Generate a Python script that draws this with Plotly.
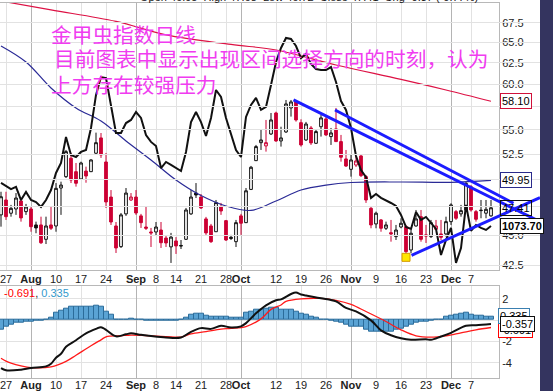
import numpy as np
import pandas as pd
import plotly.graph_objects as go

# ---------------- data ----------------
holidays = ["2015-09-07", "2015-11-26"]
dates = [d.strftime("%Y-%m-%d") for d in pd.bdate_range("2015-07-24", "2015-12-11")]
dates = [d for d in dates if d not in holidays]
day = list(np.arange(len(dates)) - 1)          # trading-day index, 2015-07-27 = 0

open_ = [46.77, 48.12, 46.92, 47.30, 48.03, 47.06, 47.30, 45.88, 45.88, 44.64,
         45.88, 45.79, 49.23, 50.31, 52.11, 50.79, 50.09, 50.85, 50.79, 52.61,
         54.17, 51.74, 48.39, 45.79, 44.02, 46.86, 48.12, 48.39, 46.68, 45.70,
         45.27, 45.27, 45.44, 44.75, 44.00, 44.50, 44.12, 44.64, 46.86, 48.76,
         48.39, 46.41, 45.79, 45.29, 47.48, 46.26, 44.81, 44.44, 46.68, 46.08,
         49.10, 51.87, 53.68, 53.35, 54.58, 56.81, 53.86, 54.79, 57.36, 58.05,
         55.77, 53.96, 55.21, 53.62, 55.34, 56.17, 54.31, 55.11, 53.79, 52.04,
         51.02, 51.44, 52.34, 50.31, 47.36, 45.97, 46.32, 45.59, 45.21, 44.87,
         45.70, 45.73, 43.74, 45.79, 46.61, 45.02, 44.87, 45.50, 45.10, 45.10,
         46.17, 47.06, 46.86, 47.21, 49.35, 47.06, 47.15, 46.92, 46.68]
high = [48.88, 48.88, 47.67, 48.76, 48.12, 47.76, 47.48, 46.17, 46.61, 46.61,
        47.48, 49.70, 49.83, 52.94, 52.64, 51.64, 51.77, 51.28, 52.01, 54.72,
        54.68, 52.64, 49.04, 46.14, 46.94, 49.23, 48.76, 49.04, 46.86, 47.48,
        45.62, 46.14, 46.14, 44.92, 45.19, 44.83, 44.58, 47.39, 49.04, 49.70,
        48.67, 46.59, 45.97, 48.12, 47.85, 46.32, 45.02, 46.32, 46.86, 49.23,
        51.35, 53.45, 55.00, 56.06, 56.81, 56.95, 55.34, 58.24, 58.24, 58.24,
        56.13, 55.85, 55.42, 55.00, 56.60, 56.38, 55.21, 57.36, 54.48, 52.94,
        52.44, 52.34, 52.44, 50.47, 47.51, 47.06, 46.40, 46.17, 46.32, 45.88,
        46.47, 45.88, 45.44, 47.21, 47.21, 45.88, 46.32, 46.32, 46.32, 46.61,
        47.82, 47.21, 47.67, 49.83, 49.51, 47.21, 48.12, 48.12, 48.12]
low = [45.73, 46.32, 46.61, 46.77, 46.17, 46.77, 45.29, 45.16, 44.24, 44.24,
       45.44, 45.29, 46.77, 50.18, 49.70, 49.36, 49.99, 49.73, 50.76, 52.44,
       52.14, 47.39, 45.88, 43.49, 43.91, 46.68, 48.03, 46.77, 45.62, 45.44,
       43.99, 44.92, 43.91, 43.99, 42.67, 43.41, 43.82, 44.58, 46.77, 48.30,
       47.30, 45.02, 44.33, 45.27, 46.77, 44.50, 44.58, 43.99, 45.02, 46.05,
       49.04, 51.84, 52.94, 52.77, 54.48, 53.76, 53.28, 54.69, 56.42, 55.88,
       53.28, 53.86, 53.45, 53.55, 54.31, 54.38, 53.45, 53.76, 51.77, 51.25,
       50.31, 51.25, 50.28, 47.85, 45.59, 45.59, 45.29, 45.44, 44.44, 44.58,
       45.59, 43.47, 43.47, 45.73, 44.44, 44.33, 44.75, 45.44, 44.58, 44.87,
       45.88, 46.32, 46.61, 47.06, 47.06, 46.17, 46.47, 46.47, 46.61]
close = [48.42, 46.61, 47.36, 48.30, 46.50, 47.48, 45.73, 45.62, 44.35, 45.79,
         45.59, 49.20, 49.51, 52.77, 49.99, 49.68, 51.64, 50.37, 51.94, 53.68,
         52.44, 47.94, 46.14, 43.91, 46.77, 48.76, 48.39, 46.94, 46.08, 45.59,
         45.19, 45.70, 44.35, 44.33, 44.83, 44.08, 44.08, 47.21, 48.39, 48.58,
         47.39, 45.19, 44.44, 47.88, 47.12, 44.58, 44.72, 46.08, 46.03, 48.97,
         51.22, 53.28, 53.96, 53.68, 56.06, 53.86, 54.17, 57.80, 58.02, 56.06,
         53.45, 55.63, 53.66, 54.83, 56.28, 54.48, 54.69, 53.79, 52.21, 51.34,
         51.94, 51.84, 50.41, 48.12, 45.88, 46.92, 45.59, 45.88, 45.10, 45.44,
         46.03, 43.60, 45.16, 46.41, 44.64, 44.92, 46.08, 45.79, 44.81, 46.17,
         47.67, 46.47, 47.15, 49.67, 47.21, 46.38, 47.18, 47.27, 47.41]
# days drawn with the opposite colour scheme (hollow red / filled black)
alt_days = [6, 25, 35, 38, 45, 52, 70, 86]

ma_long_days = [-1, 9, 22, 32, 45, 54, 66, 79, 88, 97]
ma_long = [70.35, 69.16, 67.66, 65.94, 64.75, 64.07, 62.26, 60.57, 59.36, 58.10]
ma_mid_days = [-1, 4, 9, 14, 19, 24, 29, 34, 39, 44, 49, 54, 59, 64, 69, 79, 89, 97]
ma_mid = [64.57, 62.62, 59.59, 57.36, 55.95, 53.86, 51.94, 49.99, 48.53, 47.57,
          47.17, 48.03, 49.04, 49.51, 49.75, 49.80, 49.77, 49.95]

gold = [1099.9, 1098.1, 1096.2, 1097.5, 1089.5, 1094.4, 1089.5, 1088.3, 1085.3, 1089.5,
        1095.6, 1106.0, 1112.1, 1127.9, 1116.9, 1115.7, 1118.8, 1120.0, 1133.4, 1153.5,
        1164.4, 1163.8, 1147.4, 1130.3, 1130.3, 1136.4, 1138.3, 1143.1, 1139.5, 1129.1,
        1124.9, 1122.4, 1109.0, 1112.7, 1110.9, 1109.0, 1107.2, 1118.8, 1137.0, 1143.1,
        1137.0, 1128.5, 1139.5, 1156.5, 1152.3, 1139.5, 1130.3, 1120.0, 1115.7, 1140.1,
        1147.4, 1151.7, 1144.4, 1146.2, 1159.6, 1173.6, 1182.1, 1188.2, 1187.6, 1183.3,
        1176.0, 1178.5, 1172.4, 1169.3, 1168.7, 1168.7, 1170.5, 1161.4, 1149.8, 1144.4,
        1133.4, 1116.3, 1107.8, 1103.5, 1090.8, 1093.2, 1090.8, 1089.5, 1087.7, 1085.9,
        1080.4, 1073.1, 1071.9, 1082.2, 1077.4, 1079.2, 1075.5, 1071.9, 1056.0, 1065.2,
        1072.5, 1051.2, 1060.3, 1086.5, 1070.7, 1074.3, 1072.5, 1071.3, 1073.7]

macd_days = [-1, 0, 3, 5, 8, 9, 10, 11, 12, 14, 16, 18, 19, 20, 22, 24, 25, 27, 29, 32,
             35, 37, 39, 41, 43, 45, 47, 48, 50, 52, 54, 55, 57, 58, 59, 60, 63, 66, 68,
             70, 73, 75, 77, 79, 81, 84, 85, 87, 89, 92, 94, 97]
macd = [-4.52, -4.72, -4.66, -4.50, -4.35, -4.10, -3.53, -3.16, -2.50, -1.89, -1.24,
        -0.82, -0.66, -0.91, -1.52, -1.33, -1.24, -1.38, -1.50, -1.63, -1.63, -1.10,
        -0.75, -0.82, -0.53, -0.69, -0.58, -0.28, 0.64, 1.39, 1.87, 1.95, 2.46, 2.59,
        2.42, 2.32, 2.06, 1.76, 1.15, 0.82, -0.02, -0.96, -1.42, -1.71, -1.85, -1.80,
        -1.85, -1.54, -1.19, -0.53, -0.47, -0.357]
signal_days = [-1, 0, 1, 3, 5, 9, 12, 14, 17, 19, 20, 23, 25, 29, 32, 35, 37, 40, 43,
               45, 48, 51, 53, 55, 56, 59, 63, 66, 69, 72, 76, 79, 82, 85, 88, 91, 94, 97]
signal = [-3.58, -3.86, -4.05, -4.31, -4.47, -4.40, -3.88, -3.30, -2.41, -1.85, -1.57,
          -1.47, -1.40, -1.47, -1.54, -1.59, -1.28, -1.07, -0.84, -0.77, -0.60, 0.12,
          1.01, 1.43, 1.76, 2.00, 2.04, 1.86, 1.48, 0.81, -0.13, -0.91, -1.47, -1.59,
          -1.47, -1.19, -0.91, -0.691]
hist = [-0.91, -0.60, -0.44, -0.28, -0.22, -0.16, -0.10, -0.04, -0.01, 0.09,
        0.19, 0.66, 0.87, 1.12, 1.22, 1.22, 1.22, 1.22, 1.28, 1.34,
        1.22, 0.81, 0.50, 0.09, 0.03, 0.09, 0.12, 0.09, 0.03, -0.01,
        -0.06, -0.06, -0.06, -0.06, -0.06, -0.06, 0.03, 0.19, 0.50, 0.59,
        0.59, 0.40, 0.34, 0.28, 0.34, 0.28, 0.22, 0.19, 0.19, 0.66,
        0.81, 0.97, 1.03, 1.12, 1.20, 1.15, 1.03, 0.97, 0.97, 0.81,
        0.59, 0.50, 0.28, 0.19, 0.09, 0.03, -0.04, -0.13, -0.28, -0.44,
        -0.60, -0.66, -0.66, -0.91, -1.07, -1.07, -1.07, -1.07, -1.07, -0.91,
        -0.84, -0.60, -0.44, -0.28, -0.16, -0.10, -0.04, 0.03, 0.09, 0.28,
        0.40, 0.47, 0.59, 0.66, 0.50, 0.40, 0.40, 0.34, 0.335]

# hand-drawn trend lines: (day, price) -> (day, price)
trend_lines = [((57.5, 58.24), (106.8, 46.17)),
               ((65.8, 57.14), (101.5, 47.82)),
               ((81.1, 43.30), (106.8, 48.34))]
low_mark_day, low_mark_price = 80, 43.13

tick_dates = ["2015-07-27", "2015-08-03", "2015-08-10", "2015-08-17", "2015-08-24",
              "2015-09-01", "2015-09-08", "2015-09-14", "2015-09-21", "2015-09-28",
              "2015-10-01", "2015-10-12", "2015-10-19", "2015-10-26", "2015-11-02",
              "2015-11-09", "2015-11-16", "2015-11-23", "2015-12-01", "2015-12-07"]
tick_text = ["27", "<b>Aug</b>", "10", "17", "24", "<b>Sep</b>", "8", "14", "21", "28",
             "<b>Oct</b>", "12", "19", "26", "<b>Nov</b>", "9", "16", "23", "<b>Dec</b>", "7"]
month_dates = ["2015-08-03", "2015-09-01", "2015-10-01", "2015-11-02", "2015-12-01"]

price_ticks = [42.5, 45.0, 47.5, 50.0, 52.5, 55.0, 57.5, 60.0, 62.5, 65.0, 67.5]
price_tick_text = ["42.5", "45.0", "", "", "52.5", "55.0", "", "60.0", "62.5", "65.0", "67.5"]
macd_ticks = [2, 0, -2, -4]
macd_tick_text = ["2", "", "-2", "-4"]

title_lines = ["金甲虫指数日线", "目前图表中显示出现区间选择方向的时刻，认为", "上方存在较强压力"]

# ---------------- figure ----------------
pos = {d: k - 1 for k, d in enumerate(dates)}
tick_pos = [pos[d] for d in tick_dates]
month_pos = [pos[d] for d in month_dates]

norm = [k for k in range(len(dates)) if day[k] not in alt_days]
alt = [k for k in range(len(dates)) if day[k] in alt_days]
sel = lambda a, ks: [a[k] for k in ks]

RED = "#cc0033"
fig = go.Figure()
fig.add_trace(go.Candlestick(
    x=sel(day, norm), open=sel(open_, norm), high=sel(high, norm),
    low=sel(low, norm), close=sel(close, norm), whiskerwidth=0,
    increasing=dict(line=dict(color="#111111", width=1), fillcolor="white"),
    decreasing=dict(line=dict(color=RED, width=1), fillcolor=RED),
    xaxis="x", yaxis="y", showlegend=False))
fig.add_trace(go.Candlestick(
    x=sel(day, alt), open=sel(open_, alt), high=sel(high, alt),
    low=sel(low, alt), close=sel(close, alt), whiskerwidth=0,
    increasing=dict(line=dict(color=RED, width=1), fillcolor="white"),
    decreasing=dict(line=dict(color="#111111", width=1), fillcolor="#111111"),
    xaxis="x", yaxis="y", showlegend=False))
fig.add_trace(go.Scatter(x=ma_long_days, y=ma_long, mode="lines",
                         line=dict(color="#dd1144", width=1.2, shape="spline"),
                         xaxis="x", yaxis="y", showlegend=False))
fig.add_trace(go.Scatter(x=ma_mid_days, y=ma_mid, mode="lines",
                         line=dict(color="#2a2a96", width=1.2, shape="spline"),
                         xaxis="x", yaxis="y", showlegend=False))
fig.add_trace(go.Scatter(x=day, y=gold, mode="lines",
                         line=dict(color="#111111", width=2),
                         xaxis="x", yaxis="y2", showlegend=False))
tx, ty = [], []
for (a, p), (b, q) in trend_lines:
    tx += [a, b, None]
    ty += [p, q, None]
fig.add_trace(go.Scatter(x=tx, y=ty, mode="lines", line=dict(color="#1c1cff", width=3),
                         xaxis="x3", yaxis="y", showlegend=False))
fig.add_trace(go.Scatter(x=[low_mark_day], y=[low_mark_price], mode="markers",
                         marker=dict(symbol="square", size=8, color="#ffe600",
                                     line=dict(color="#d49a00", width=1)),
                         xaxis="x3", yaxis="y", showlegend=False))
# MACD panel
fig.add_trace(go.Bar(x=day, y=hist, width=1,
                     marker=dict(color="#5aa3d4", line=dict(color="#2b6c9a", width=1)),
                     xaxis="x2", yaxis="y3", showlegend=False))
fig.add_trace(go.Scatter(x=signal_days, y=signal, mode="lines",
                         line=dict(color="#ff1a1a", width=1.3, shape="spline"),
                         xaxis="x2", yaxis="y3", showlegend=False))
fig.add_trace(go.Scatter(x=macd_days, y=macd, mode="lines",
                         line=dict(color="#111111", width=2, shape="spline"),
                         xaxis="x2", yaxis="y3", showlegend=False))
# dummy traces for month grid axes
fig.add_trace(go.Scatter(x=[None], y=[None], xaxis="x4", yaxis="y", showlegend=False))
fig.add_trace(go.Scatter(x=[None], y=[None], xaxis="x5", yaxis="y3", showlegend=False))

PW, PH = 540.0, 376.0          # plot region (inside margins)
TOPPX = 3.0
def py(p):                       # pixel row -> paper y
    return (TOPPX + PH - p) / PH
dom = 499.0 / PW
r0, r1 = -1.2, 98.6
FONT = "Liberation Sans, Arial, sans-serif"
GRID = "#e2e2e2"
FRAME = "#b8b8b8"

xcommon = dict(range=[r0, r1], domain=[0, dom], tickmode="array", tickvals=tick_pos,
               ticktext=tick_text, tickangle=0, ticklabeloverflow="allow",
               showgrid=True, gridcolor=GRID, gridwidth=1,
               ticks="", zeroline=False, showline=True, mirror=True, linecolor=FRAME,
               tickfont=dict(family=FONT, size=11, color="#222"), fixedrange=True)
xmonth = dict(range=[r0, r1], tickmode="array", tickvals=month_pos, showticklabels=False,
              showgrid=True, gridcolor="#b4b4b4", gridwidth=1, ticks="", zeroline=False,
              showline=False)

fig.update_layout(
    width=553, height=391, template="none",
    margin=dict(l=0, r=13, t=3, b=12, pad=0),
    paper_bgcolor="white", plot_bgcolor="rgba(0,0,0,0)",
    showlegend=False, boxgap=0.22, bargap=0,
    xaxis=dict(**xcommon, anchor="y", rangeslider=dict(visible=False),
               ticklabelstandoff=-1),
    xaxis2=dict(**xcommon, anchor="y3", ticklabelstandoff=-3),
    xaxis3=dict(range=[r0, r0 + (r1 - r0) / dom], domain=[0, 1], anchor="y", visible=False),
    xaxis4=dict(**xmonth, overlaying="x", anchor="y"),
    xaxis5=dict(**xmonth, overlaying="x2", anchor="y3"),
    yaxis=dict(type="log", range=[np.log10(42.10), np.log10(70.08)], domain=[py(270), 1],
               side="right", anchor="x", tickmode="array", tickvals=price_ticks,
               ticktext=price_tick_text, showgrid=True, gridcolor=GRID, ticks="",
               zeroline=False, showline=True, mirror=True, linecolor=FRAME,
               tickfont=dict(family=FONT, size=11, color="#222")),
    yaxis2=dict(range=[1046.9, 1209.5], overlaying="y", anchor="x", visible=False),
    yaxis3=dict(range=[-5.44, 3.24], domain=[py(378), py(285.7)], side="right", anchor="x2",
                tickmode="array", tickvals=macd_ticks, ticktext=macd_tick_text,
                showgrid=True, gridcolor=GRID, ticks="", zeroline=False, showline=True,
                mirror=True, linecolor=FRAME,
                tickfont=dict(family=FONT, size=11, color="#222")),
)

ann = []
MAG = "#f03cf0"
for text, xp, yp in zip(title_lines, [49, 52, 49], [34, 57.5, 84]):
    ann.append(dict(text=text, x=xp / PW, y=py(yp), xref="paper", yref="paper",
                    xanchor="left", yanchor="middle", showarrow=False,
                    font=dict(family="Noto Sans CJK SC", size=20.7, color=MAG)))
ann.append(dict(text="Open 46.95  High 47.68  Low 46.72  Close 47.41  Chg -0.37 (-0.77%)",
                x=138 / PW, y=py(-3), xref="paper", yref="paper", xanchor="left",
                yanchor="middle", showarrow=False,
                font=dict(family=FONT, size=11, color="#111")))
ann.append(dict(text='<span style="color:#ff0000">-0.691</span>, '
                     '<span style="color:#3399cc">0.335</span>',
                x=2 / PW, y=py(292.7), xref="paper", yref="paper", xanchor="left",
                yanchor="middle", showarrow=False,
                font=dict(family=FONT, size=11, color="#222")))

def tag(text, yval, yref, border, bold=False, xpx=500, bg="white", yshift=0):
    return dict(text=("<b>%s</b>" % text) if bold else text, x=xpx / PW, y=yval,
                xref="paper", yref=yref, xanchor="left", yanchor="middle",
                showarrow=False, bordercolor=border, borderwidth=1, borderpad=1,
                bgcolor=bg, yshift=yshift, font=dict(family=FONT, size=11, color="#000"))

ann.append(tag("58.10", np.log10(ma_long[-1]), "y", "#d0103a"))
ann.append(tag("49.95", np.log10(ma_mid[-1]), "y", "#2b2b8c"))
ann.append(tag("47.41", np.log10(close[-1]), "y", "#111", bg="rgba(255,255,255,0)"))
ann.append(tag("1073.70", gold[-1], "y2", "#111", bold=True))
ann.append(tag("-0.691", signal[-1], "y3", "#ff0000", xpx=498, yshift=-2))
ann.append(tag("0.335", hist[-1], "y3", "#3a7fb0", xpx=498, yshift=1))
ann.append(tag("-0.357", macd[-1], "y3", "#111", xpx=500))
fig.update_layout(annotations=ann)

fig.add_shape(type="rect", xref="paper", yref="paper", x0=1.0, x1=1.05, y0=-0.1, y1=1.1,
              fillcolor="#34345f", line=dict(width=0), layer="above")

fig.write_html("out.html", config={"displayModeBar": False},
               post_script="document.body.style.margin='0px';")
